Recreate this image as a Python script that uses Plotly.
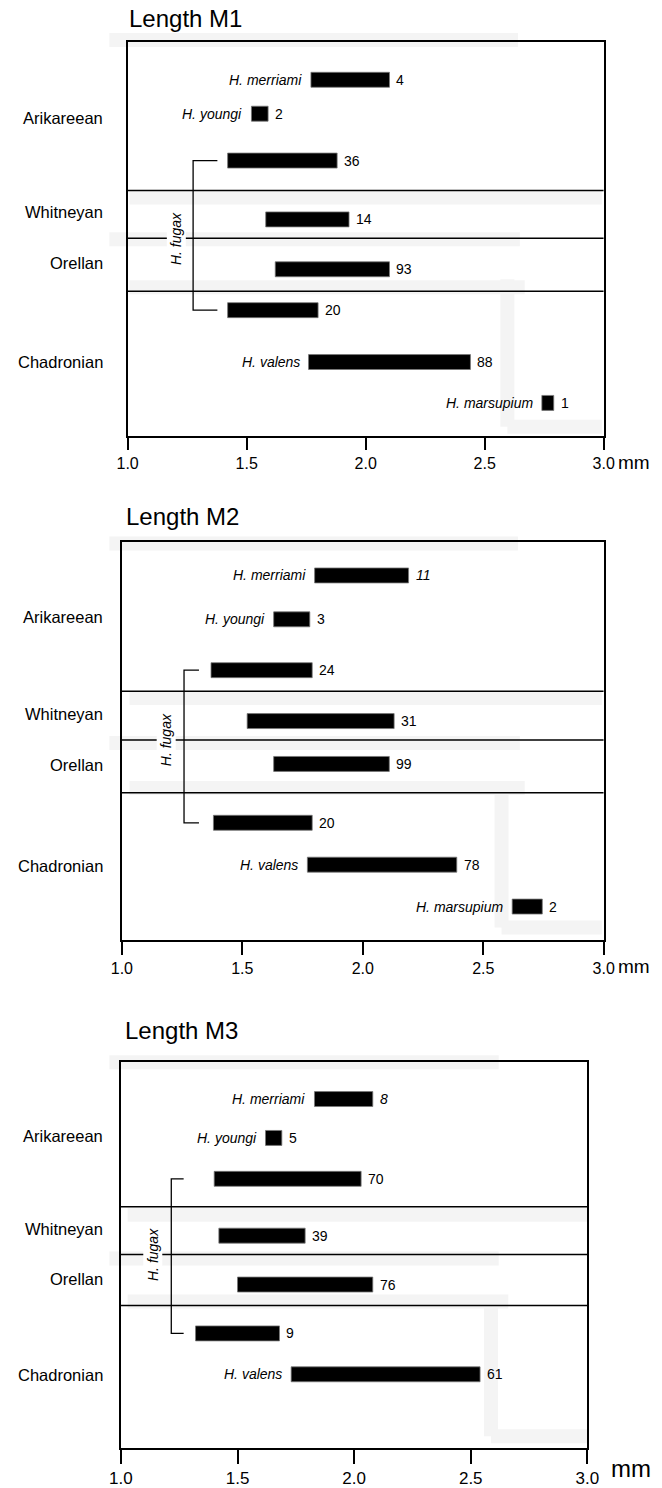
import plotly.graph_objects as go

W, H = 662, 1488

# ---------------- data ----------------
eras = ["Arikareean", "Whitneyan", "Orellan", "Chadronian"]
panel_titles = ["Length M1", "Length M2", "Length M3"]
tick_vals = [1.0, 1.5, 2.0, 2.5, 3.0]
tick_text = ["1.0", "1.5", "2.0", "2.5", "3.0"]

species_m1 = ["H. merriami", "H. youngi", "", "", "", "", "H. valens", "H. marsupium"]
m1_min = [1.77, 1.52, 1.42, 1.58, 1.62, 1.42, 1.76, 2.74]
m1_max = [2.10, 1.59, 1.88, 1.93, 2.10, 1.80, 2.44, 2.79]
m1_n = ["4", "2", "36", "14", "93", "20", "88", "1"]

species_m2 = ["H. merriami", "H. youngi", "", "", "", "", "H. valens", "H. marsupium"]
m2_min = [1.80, 1.63, 1.37, 1.52, 1.63, 1.38, 1.77, 2.62]
m2_max = [2.19, 1.78, 1.79, 2.13, 2.11, 1.79, 2.39, 2.745]
m2_n = ["11", "3", "24", "31", "99", "20", "78", "2"]

species_m3 = ["H. merriami", "H. youngi", "", "", "", "", "H. valens"]
m3_min = [1.83, 1.62, 1.40, 1.42, 1.50, 1.32, 1.73]
m3_max = [2.08, 1.69, 2.03, 1.79, 2.08, 1.68, 2.54]
m3_n = ["8", "5", "70", "39", "76", "9", "61"]

fugax_label = "H. fugax"
unit_label = "mm"

# ---------------- layout (pixel positions on the page) ----------------
panels = [
    dict(box=(120, 614, 42, 437), title_y=19, title_x=119, title_size=24,
         rows=[80, 114, 161, 220, 270, 311, 363, 404], hlines=[191, 239, 292],
         era_y=[118, 213, 264, 363], fugax_idx=(2, 5), bracket=(1.275, 1.377),
         fugax_x=1.206, italic_n=[], mm_size=19, mm_pos=(627, 464), tick_font=16,
         ticklen=12, species=species_m1, lo=m1_min, hi=m1_max, n=m1_n),
    dict(box=(114, 614, 543, 943), title_y=518, title_x=116, title_size=24,
         rows=[577, 621, 672, 723, 766, 825, 867, 909], hlines=[693, 742, 795],
         era_y=[619, 716, 767, 868], fugax_idx=(2, 5), bracket=(1.258, 1.32),
         fugax_x=1.184, italic_n=[0], mm_size=19, mm_pos=(627, 969), tick_font=16,
         ticklen=13, species=species_m2, lo=m2_min, hi=m2_max, n=m2_n),
    dict(box=(113, 597, 1065, 1452), title_y=1033, title_x=115, title_size=24,
         rows=[1102, 1141, 1182, 1239, 1288, 1337, 1378], hlines=[1210, 1258, 1309],
         era_y=[1139, 1232, 1282, 1379], fugax_idx=(2, 5), bracket=(1.216, 1.269),
         fugax_x=1.135, italic_n=[0], mm_size=24, mm_pos=(619, 1472), tick_font=17,
         ticklen=14, species=species_m3, lo=m3_min, hi=m3_max, n=m3_n),
]

FONT = "Liberation Sans, Arial, Helvetica, sans-serif"
fig = go.Figure()
shapes, annos = [], []


def px(p):
    return p / W


def py(p):
    return 1 - p / H


for i, P in enumerate(panels):
    k = "" if i == 0 else str(i + 1)
    xa, ya = "x" + k, "y" + k
    left, right, top, bottom = P["box"]
    fig.update_layout({
        "xaxis" + k: dict(domain=[px(left), px(right)], range=[1, 3], anchor=ya,
                          showline=True, linecolor="black", linewidth=1.5, mirror=True,
                          ticks="outside", ticklen=P["ticklen"], tickwidth=1.5,
                          tickcolor="black", tickvals=tick_vals, ticktext=tick_text,
                          showgrid=False, zeroline=False, fixedrange=True,
                          tickfont=dict(family=FONT, size=P["tick_font"], color="black")),
        "yaxis" + k: dict(domain=[py(bottom), py(top)], range=[bottom, top], anchor=xa,
                          showline=True, linecolor="black", linewidth=1.5, mirror=True,
                          showticklabels=False, ticks="", showgrid=False, zeroline=False,
                          fixedrange=True),
    })
    lo, hi, n, sp, rows = P["lo"], P["hi"], P["n"], P["species"], P["rows"]
    fig.add_trace(go.Bar(
        orientation="h", base=lo, x=[b - a for a, b in zip(lo, hi)], y=rows, width=15,
        marker=dict(color="black", line=dict(color="#777", width=0.8)),
        xaxis=xa, yaxis=ya, showlegend=False, hoverinfo="skip"))
    # species labels & counts
    for j in range(len(lo)):
        if sp[j]:
            annos.append(dict(x=lo[j], y=rows[j], xref=xa, yref=ya, text="<i>%s</i>" % sp[j],
                              xanchor="right", yanchor="middle", xshift=-7, showarrow=False,
                              font=dict(family=FONT, size=14, color="black")))
        txt = n[j]
        if j in P["italic_n"]:
            txt = "<i>%s</i>" % txt
        annos.append(dict(x=hi[j], y=rows[j], xref=xa, yref=ya, text=txt,
                          xanchor="left", yanchor="middle", xshift=5, showarrow=False,
                          font=dict(family=FONT, size=14, color="black")))
    # period separators
    for h in P["hlines"]:
        shapes.append(dict(type="line", xref=xa, yref=ya, x0=1, x1=3, y0=h, y1=h,
                           line=dict(color="black", width=1.5)))
    # era labels
    for e, ey in zip(eras, P["era_y"]):
        annos.append(dict(x=px(96), y=py(ey), xref="paper", yref="paper", text=e,
                          xanchor="right", yanchor="middle", showarrow=False,
                          font=dict(family=FONT, size=16.5, color="black")))
    # fugax bracket
    a, b = P["fugax_idx"]
    bx, tx = P["bracket"]
    y0, y1 = rows[a], rows[b]
    shapes.append(dict(type="path", xref=xa, yref=ya,
                       path="M %f %f L %f %f L %f %f L %f %f" % (tx, y0, bx, y0, bx, y1, tx, y1),
                       line=dict(color="black", width=1.3)))
    annos.append(dict(x=P["fugax_x"], y=P["hlines"][1], xref=xa, yref=ya,
                      text="<i>%s</i>" % fugax_label, textangle=-90, showarrow=False,
                      bgcolor="white", xanchor="center", yanchor="middle",
                      font=dict(family=FONT, size=14, color="black")))
    # title
    annos.append(dict(x=px(P["title_x"]), y=py(P["title_y"]), xref="paper", yref="paper",
                      text=panel_titles[i], xanchor="left", yanchor="middle", showarrow=False,
                      font=dict(family=FONT, size=P["title_size"], color="black")))
    # unit
    mx, my = P["mm_pos"]
    annos.append(dict(x=px(mx), y=py(my), xref="paper", yref="paper", text=unit_label,
                      xanchor="left", yanchor="middle", showarrow=False,
                      font=dict(family=FONT, size=P["mm_size"], color="black")))

# faint scan smudges (background)
smudges = [
    (101, 40, 525, 40), (122, 198, 612, 198), (101, 240, 527, 240), (122, 288, 532, 288),
    (514, 280, 514, 428), (514, 428, 612, 428),
    (101, 545, 525, 545), (122, 700, 612, 700), (101, 745, 527, 745), (122, 790, 532, 790),
    (508, 785, 508, 930), (508, 930, 612, 930),
    (101, 1065, 505, 1065), (120, 1218, 597, 1218), (101, 1262, 505, 1262), (120, 1305, 515, 1305),
    (497, 1300, 497, 1440), (497, 1440, 597, 1440),
]
for (x0, y0, x1, y1) in smudges:
    shapes.append(dict(type="line", xref="paper", yref="paper", x0=px(x0), x1=px(x1),
                       y0=py(y0), y1=py(y1), layer="below",
                       line=dict(color="#f4f4f4", width=14)))

fig.update_layout(width=W, height=H, margin=dict(l=0, r=0, t=0, b=0),
                  paper_bgcolor="white", plot_bgcolor="rgba(0,0,0,0)",
                  shapes=shapes, annotations=annos, barmode="overlay",
                  font=dict(family=FONT, color="black"))
fig.write_html("out.html", config={"displayModeBar": False},
               post_script="document.body.style.margin='0';document.body.style.overflow='hidden';")
